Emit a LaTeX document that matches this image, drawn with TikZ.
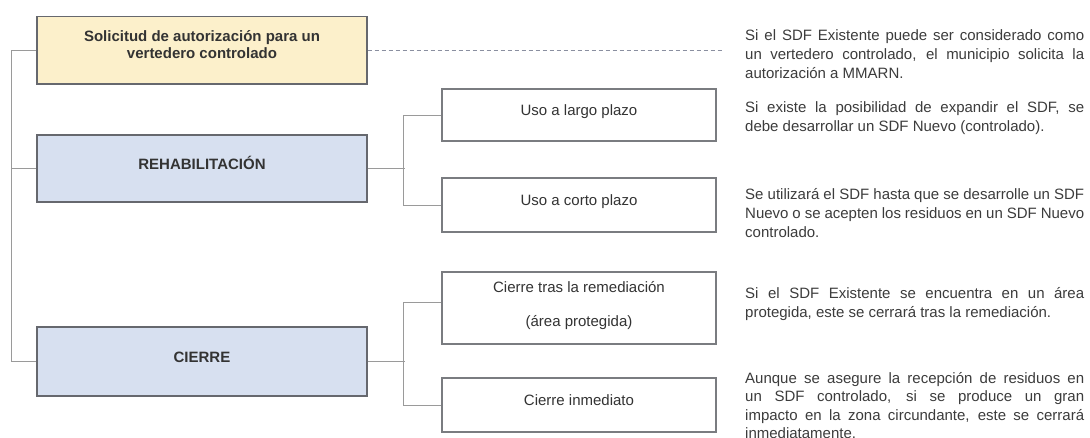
\documentclass[tikz,border=0pt]{standalone}
\usepackage{fontspec}
\setmainfont{Liberation Sans}
\definecolor{yelc}{HTML}{FCF0CB}
\definecolor{bluec}{HTML}{D7E0F0}
\definecolor{bordc}{HTML}{66686E}
\definecolor{subc}{HTML}{7A7C80}
\definecolor{linec}{HTML}{9A9A9A}
\definecolor{dashc}{HTML}{8A8FA0}
\definecolor{txtc}{HTML}{333333}
\definecolor{notec}{HTML}{3C3C3C}
\newcommand{\notefont}{\fontsize{15pt}{18.6pt}\selectfont}
\newcommand{\jline}[1]{\makebox[339pt][s]{#1}}
\newcommand{\noteblock}[1]{\parbox[t]{339pt}{\notefont #1}}
\begin{document}
\begin{tikzpicture}[x=1pt,y=-1pt,
  mainbox/.style={draw=bordc, line width=1.3pt, inner sep=0pt, minimum width=330pt,
    font=\fontsize{15pt}{17pt}\selectfont\bfseries, text=txtc},
  subbox/.style={draw=subc, line width=1.1pt, fill=white, inner sep=0pt, minimum width=274pt,
    font=\fontsize{15pt}{18pt}\selectfont, text=txtc},
  oneline/.style={text height=11pt, text depth=9pt},
  conn/.style={draw=linec, line width=0.9pt},
  dashconn/.style={draw=dashc, line width=0.9pt, dash pattern=on 4pt off 3pt},
  note/.style={anchor=base west, inner sep=0pt, text=notec}]
\useasboundingbox (0,0) rectangle (1090,438);
\fill[white] (0,0) rectangle (1090,438);

% left column boxes
\node[mainbox, fill=yelc, minimum height=67.5pt, align=center, text depth=11pt] (sol) at (202,50.25)
  {Solicitud de autorización para un\\vertedero controlado};
\node[mainbox, fill=bluec, minimum height=67pt, oneline] (reh) at (202,168.5) {REHABILITACIÓN};
\node[mainbox, fill=bluec, minimum height=69pt, oneline] (cie) at (202,361.5) {CIERRE};

% middle column boxes
\node[subbox, minimum height=52pt, oneline] (ulp) at (579,115) {Uso a largo plazo};
\node[subbox, minimum height=54pt, oneline] (ucp) at (579,205) {Uso a corto plazo};
\node[subbox, minimum height=72pt, align=center, text depth=9pt] (ctr) at (579,308)
  {Cierre tras la remediación\\[16pt](área protegida)};
\node[subbox, minimum height=54pt, oneline] (cin) at (579,405) {Cierre inmediato};

% connectors
\draw[conn] (sol.west) -- ++(-25,0) |- (cie.west);
\draw[conn] (reh.west) -- ++(-25,0);
\draw[conn] (reh.east) -- ++(37,0);
\draw[conn] (ulp.west) -- ++(-38,0) |- (ucp.west);
\draw[conn] (cie.east) -- ++(37,0);
\draw[conn] ([yshift=5.5pt]ctr.west) -- ++(-38,0) |- (cin.west);
\coordinate (dend) at (723,50.25);
\draw[dashconn] (sol.east) -- (dend);

% notes
\node[note] (n1) at (745,41) {\noteblock{%
  \jline{Si el SDF Existente puede ser considerado como}\\
  \jline{un vertedero controlado, el municipio solicita la}\\
  autorización a MMARN.}};
\node[note] (n2) at (745,113) {\noteblock{%
  \jline{Si existe la posibilidad de expandir el SDF, se}\\
  debe desarrollar un SDF Nuevo (controlado).}};
\node[note] (n3) at (745,200) {\noteblock{%
  \jline{Se utilizará el SDF hasta que se desarrolle un SDF}\\
  \jline{Nuevo o se acepten los residuos en un SDF Nuevo}\\
  controlado.}};
\node[note] (n4) at (745,299) {\noteblock{%
  \jline{Si el SDF Existente se encuentra en un área}\\
  protegida, este se cerrará tras la remediación.}};
\node[note] (n5) at (745,383) {\noteblock{%
  \jline{Aunque se asegure la recepción de residuos en}\\
  \jline{un SDF controlado, si se produce un gran}\\
  \jline{impacto en la zona circundante, este se cerrará}\\
  inmediatamente.}};
\end{tikzpicture}
\end{document}
